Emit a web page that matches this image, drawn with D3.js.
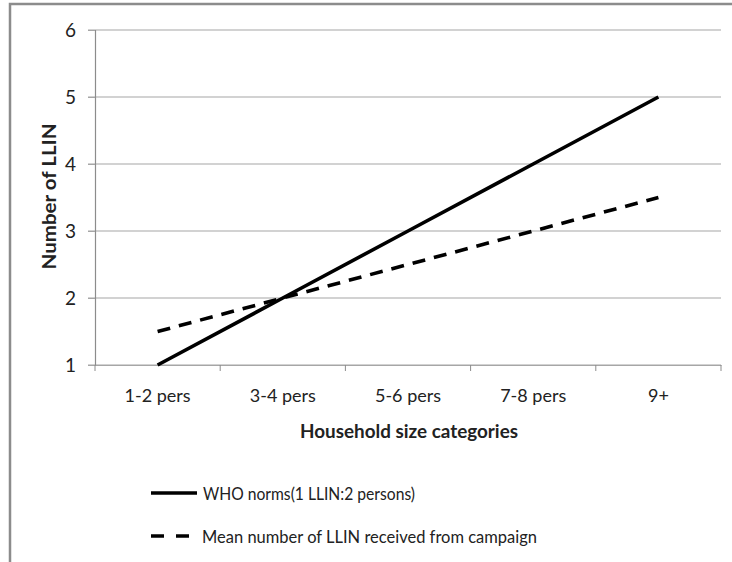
<!DOCTYPE html>
<html><head><meta charset="utf-8">
<script src="https://cdn.jsdelivr.net/npm/d3@7"></script>
<style>
html,body{margin:0;padding:0;background:#fff;}
svg text{font-family:Lato,"Open Sans",sans-serif;fill:#222;}
</style></head>
<body>
<svg id="c" width="732" height="562"></svg>
<script>
const categories = ["1-2 pers","3-4 pers","5-6 pers","7-8 pers","9+"];
const whoNorms = [1,2,3,4,5];
const meanReceived = [1.5,2,2.5,3,3.5];
const yTicks = [1,2,3,4,5,6];
const seriesNames = ["WHO norms(1 LLIN:2 persons)","Mean number of LLIN received from campaign"];

const svg = d3.select("#c");
// outer frame
svg.append("rect").attr("x",10).attr("y",4).attr("width",740).attr("height",600)
  .attr("fill","none").attr("stroke","#8c8c8c").attr("stroke-width",2.5);

const pLeft=95, pRight=721, pTop=30, pBottom=365;
const x = d3.scaleBand().domain(categories).range([pLeft,pRight]);
const y = d3.scaleLinear().domain([1,6]).range([pBottom,pTop]);

// gridlines
svg.append("g").selectAll("line").data(yTicks).join("line")
  .attr("x1",pLeft-7).attr("x2",pRight).attr("y1",d=>y(d)).attr("y2",d=>y(d))
  .attr("stroke","#a6a6a6").attr("stroke-width",1.2);

// y axis
const yAxis = svg.append("g").attr("transform",`translate(${pLeft},0)`)
  .call(d3.axisLeft(y).tickValues(yTicks).tickSize(7).tickPadding(12).tickFormat(d3.format("d")));
yAxis.select(".domain").attr("stroke","#8c8c8c").attr("stroke-width",1.2);
yAxis.selectAll(".tick line").attr("stroke","#a6a6a6");
yAxis.selectAll("text").attr("font-size",19).style("fill","#222");

// x axis
const xAxis = svg.append("g").attr("transform",`translate(0,${pBottom})`)
  .call(d3.axisBottom(x).tickSize(0).tickPadding(24));
xAxis.select(".domain").attr("stroke","#a6a6a6").attr("stroke-width",1.2);
xAxis.selectAll("text").attr("font-size",18).style("fill","#222");
// boundary ticks
const bounds = categories.map(c=>x(c)).concat([pRight]);
svg.append("g").selectAll("line").data(bounds).join("line")
  .attr("x1",d=>d).attr("x2",d=>d).attr("y1",pBottom).attr("y2",pBottom+6)
  .attr("stroke","#8c8c8c").attr("stroke-width",1);

// lines
const line = d3.line().x((d,i)=>x(categories[i])+x.bandwidth()/2).y(d=>y(d));
svg.append("path").datum(meanReceived).attr("d",line).attr("fill","none")
  .attr("stroke","#000").attr("stroke-width",3.6).attr("stroke-dasharray","13,9");
svg.append("path").datum(whoNorms).attr("d",line).attr("fill","none")
  .attr("stroke","#000").attr("stroke-width",3.6);

// axis titles
svg.append("text").attr("x",409).attr("y",438).attr("text-anchor","middle")
  .attr("font-size",19).attr("font-weight","bold")
  .attr("textLength",218).attr("lengthAdjust","spacingAndGlyphs").text("Household size categories");
svg.append("text").attr("transform",`translate(56,196.5) rotate(-90)`)
  .attr("text-anchor","middle").attr("font-size",19).attr("font-weight","bold")
  .attr("textLength",146).attr("lengthAdjust","spacingAndGlyphs").text("Number of LLIN");

// legend
const lg = svg.append("g");
const ly = [493,536];
lg.append("line").attr("x1",151).attr("x2",197).attr("y1",ly[0]).attr("y2",ly[0])
  .attr("stroke","#000").attr("stroke-width",3.6);
lg.append("line").attr("x1",151).attr("x2",190).attr("y1",ly[1]).attr("y2",ly[1])
  .attr("stroke","#000").attr("stroke-width",3.6).attr("stroke-dasharray","13,12");
lg.append("text").attr("x",203).attr("y",ly[0]+7).attr("font-size",17.5)
  .attr("textLength",212).attr("lengthAdjust","spacingAndGlyphs").text(seriesNames[0]);
lg.append("text").attr("x",202).attr("y",ly[1]+7).attr("font-size",17.5)
  .attr("textLength",335).attr("lengthAdjust","spacingAndGlyphs").text(seriesNames[1]);
</script>
</body></html>
